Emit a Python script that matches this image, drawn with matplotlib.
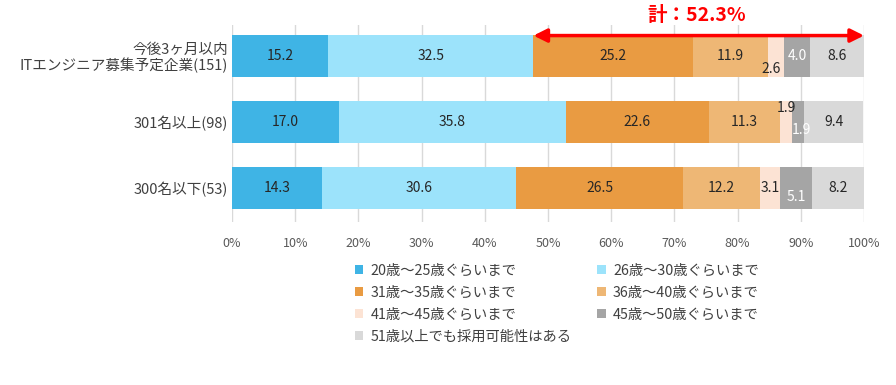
import matplotlib
matplotlib.use("Agg")
import matplotlib.pyplot as plt
from matplotlib.patches import Patch
import numpy as np

plt.rcParams['font.family'] = ['Noto Sans CJK JP', 'DejaVu Sans']

groups = ['今後3ヶ月以内\nITエンジニア募集予定企業(151)', '301名以上(98)', '300名以下(53)']
series = ['20歳～25歳ぐらいまで', '26歳～30歳ぐらいまで', '31歳～35歳ぐらいまで',
          '36歳～40歳ぐらいまで', '41歳～45歳ぐらいまで', '45歳～50歳ぐらいまで',
          '51歳以上でも採用可能性はある']
values = np.array([
    [15.2, 32.5, 25.2, 11.9, 2.6, 4.0, 8.6],
    [17.0, 35.8, 22.6, 11.3, 1.9, 1.9, 9.4],
    [14.3, 30.6, 26.5, 12.2, 3.1, 5.1, 8.2],
])
total_label = '計：52.3%'

colors = ['#3FB4E5', '#9CE3FB', '#E99B42', '#EEB775', '#FCE3D4', '#A5A5A5', '#D9D9D9']
text_colors = ['#262626'] * 5 + ['white', '#262626']

# label nudges for the thin segments: (row, series) -> (dx, dy)
nudges = {
    (0, 4): (-0.8, 0.2),
    (1, 4): (0.0, -0.21),
    (1, 5): (0.6, 0.12),
    (2, 5): (0.0, 0.14),
}

fig = plt.figure(figsize=(8.96, 3.85), dpi=100)
ax = fig.add_axes([232 / 896, 1 - 222 / 385, 632 / 896, 197 / 385])

y = np.arange(len(groups))
left = np.zeros(len(groups))
for j, name in enumerate(series):
    ax.barh(y, values[:, j], left=left, height=0.64, color=colors[j], label=name, zorder=2)
    for i in range(len(groups)):
        dx, dy = nudges.get((i, j), (0, 0))
        ax.text(left[i] + values[i, j] / 2 + dx, y[i] + dy, f'{values[i, j]:.1f}',
                ha='center', va='center', fontsize=10, color=text_colors[j], zorder=3)
    left += values[:, j]

ax.set_xlim(0, 100)
ax.set_ylim(2.515, -0.47)
ax.set_xticks(np.arange(0, 101, 10))
ax.set_xticklabels([f'{t}%' for t in range(0, 101, 10)])
ax.set_yticks(y)
ax.set_yticklabels(groups, fontsize=10.5, color='#404040', linespacing=1.05)
ax.tick_params(axis='x', length=0, labelsize=9, labelcolor='#595959', pad=11)
ax.tick_params(axis='y', length=0, pad=3)
ax.grid(axis='x', color='#D9D9D9', linewidth=1, zorder=0)
for s in ax.spines.values():
    s.set_visible(False)

# bracket arrow for the 31+ total
start = values[0, 0] + values[0, 1]
ax.annotate('', xy=(start, -0.31), xytext=(100, -0.31),
            arrowprops=dict(arrowstyle='<|-|>', color='#FF0000', lw=2.5,
                            mutation_scale=20, shrinkA=0, shrinkB=0),
            zorder=5, annotation_clip=False)
ax.text(73.6, -0.62, total_label, ha='center', va='center',
        fontsize=14, fontweight='bold', color='#FF0000', clip_on=False)

handles = [Patch(facecolor=c, edgecolor='none') for c in colors]
order = [0, 2, 4, 6, 1, 3, 5]
fig.legend([handles[k] for k in order], [series[k] for k in order],
           loc='upper left', bbox_to_anchor=(349 / 896, 1 - 258 / 385), ncol=2,
           frameon=False, fontsize=10.3, handlelength=0.6, handleheight=0.6,
           handletextpad=0.5, labelspacing=0.56, columnspacing=1.8,
           labelcolor='#404040', borderaxespad=0)

fig.savefig('out.png', dpi=100)
